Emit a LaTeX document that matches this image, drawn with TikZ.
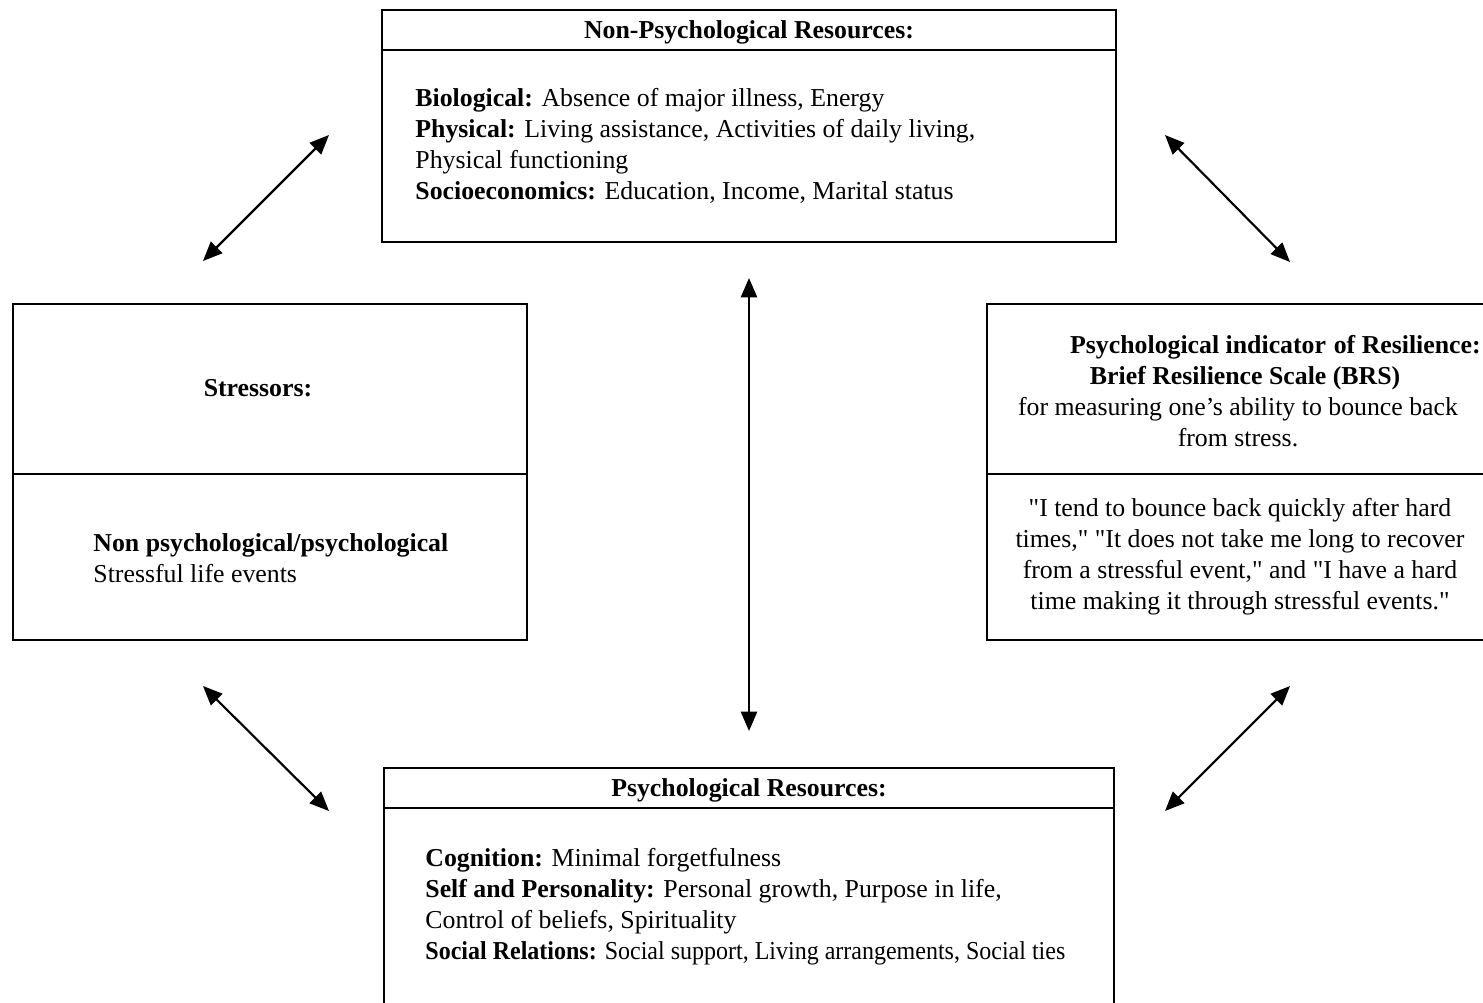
\documentclass[tikz,border=0pt]{standalone}
\usepackage{fontspec}
\usepackage{graphicx}
\setmainfont{Liberation Serif}[Ligatures=TeXOff]
\usetikzlibrary{arrows.meta}
\tikzset{
	box/.style={draw,line width=0.9pt},
	link/.style={{Triangle[length=9pt,width=7.5pt]}-{Triangle[length=9pt,width=7.5pt]},line width=1pt},
	txt/.style={inner sep=0pt,align=left,anchor=north west},
	title/.style={inner sep=0pt,anchor=base},
}
\begin{document}
\begin{tikzpicture}[x=0.465pt,y=-0.465pt,font=\fontsize{12}{14.4}\selectfont]
	\useasboundingbox (0,0) rectangle (1483,1002);
	%boxes
	\draw[box] (382,10) rectangle (1116,242); %non-psychological
	\draw[box] (382,50) -- (1116,50); %header line
	\draw[box] (13,304) rectangle (527,640); %stressors
	\draw[box] (13,474) -- (527,474); %divider
	\draw[box] (987,304) rectangle (1495,640); %resilience
	\draw[box] (987,474) -- (1495,474); %divider
	\draw[box] (384,768) rectangle (1114,1015); %psychological
	\draw[box] (384,808) -- (1114,808); %header line

	%top box text
	\node[title] (nonpsy) at (749,38) {\textbf{Non-Psychological Resources:}};
	\node[txt] (nonpsytxt) at (415,88) {\textbf{Biological:} Absence of major illness, Energy\\
		\textbf{Physical:} Living assistance, Activities of daily living,\\
		Physical functioning\\
		\textbf{Socioeconomics:} Education, Income, Marital status};

	%stressors text
	\node[title] (stress) at (258,396) {\textbf{Stressors:}};
	\node[txt] (stresstxt) at (93,533) {\textbf{Non psychological/psychological}\\
		Stressful life events};

	%resilience text
	\node[txt,align=center,anchor=north] (resil) at (1238,335) {\hspace*{2.9em}\textbf{Psychological indicator\hspace{0.05em} of Resilience:}\\
		\hspace*{0.55em}\textbf{Brief Resilience Scale (BRS)}\\
		for measuring one’s ability to bounce back\\
		from stress.};
	\node[txt,align=center,anchor=north] (resiltxt) at (1240,498) {"I tend to bounce back quickly after hard\\
		times," "It does not take me long to recover\\
		from a stressful event," and "I have a hard\\
		time making it through stressful events."};

	%bottom box text
	\node[title] (psy) at (749,796) {\textbf{Psychological Resources:}};
	\node[txt] (psytxt) at (425,848) {\textbf{Cognition:} Minimal forgetfulness\\
		\textbf{Self and Personality:} Personal growth, Purpose in life,\\
		Control of beliefs, Spirituality\\
		\scalebox{0.93}[1]{\textbf{Social Relations:} Social support, Living arrangements, Social ties}};

	%arrows
	\coordinate (tla) at (203,261); \coordinate (tlb) at (329,135);
	\coordinate (tra) at (1165,135); \coordinate (trb) at (1290,262);
	\coordinate (mida) at (749,278); \coordinate (midb) at (749,731);
	\coordinate (bla) at (203,686); \coordinate (blb) at (329,811);
	\coordinate (bra) at (1165,811); \coordinate (brb) at (1290,686);
	\draw[link] (tla) -- (tlb);
	\draw[link] (tra) -- (trb);
	\draw[link] (mida) -- (midb);
	\draw[link] (bla) -- (blb);
	\draw[link] (bra) -- (brb);
\end{tikzpicture}
\end{document}
